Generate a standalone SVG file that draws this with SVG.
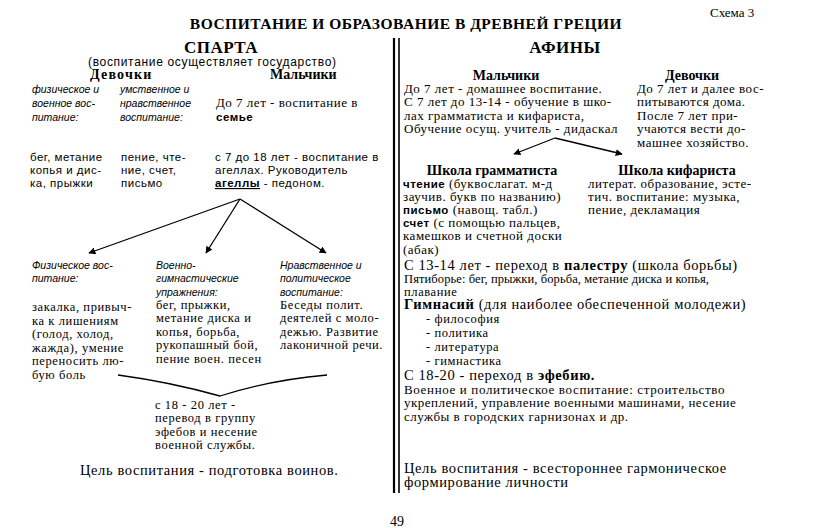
<svg xmlns="http://www.w3.org/2000/svg" width="813" height="528" viewBox="0 0 813 528">
<defs>
<marker id="ah" viewBox="0 0 10 10" refX="9" refY="5" markerWidth="7" markerHeight="7" orient="auto" markerUnits="userSpaceOnUse">
<path d="M0,0 L10,5 L0,10 z" fill="#000"/>
</marker>
<style>
text{fill:#000}
.ser{font-family:"Liberation Serif","Times New Roman",serif}
.san{font-family:"Liberation Sans",Arial,sans-serif}
.h1{font-family:"Liberation Serif",serif;font-weight:bold;font-size:15.5px;letter-spacing:0.5px}
.h2{font-family:"Liberation Serif",serif;font-weight:bold;font-size:17px;letter-spacing:0.5px}
.h3{font-family:"Liberation Serif",serif;font-weight:bold;font-size:14px}
.it{font-family:"Liberation Sans",Arial,sans-serif;font-style:italic;font-size:10.5px}
.sm{font-family:"Liberation Sans",Arial,sans-serif;font-size:11.5px;letter-spacing:0.5px}
.bd{font-family:"Liberation Serif",serif;font-size:12.5px;letter-spacing:0.6px}
.md{font-family:"Liberation Serif",serif;font-size:13px;letter-spacing:0.5px}
.lg{font-family:"Liberation Serif",serif;font-size:14.5px;letter-spacing:0.6px}
.b{font-weight:bold}
.ln{stroke:#000;fill:none;stroke-width:1.3}
</style>
</defs>
<rect width="813" height="528" fill="#fff"/>

<g id="header">
<text class="ser" x="710" y="17" font-size="13">Схема 3</text>
<text class="h1" x="406" y="29" text-anchor="middle">ВОСПИТАНИЕ И ОБРАЗОВАНИЕ В ДРЕВНЕЙ ГРЕЦИИ</text>
</g>

<g id="divider">
<line x1="394" y1="38" x2="394" y2="493" stroke="#000" stroke-width="2.2"/>
<line x1="399" y1="38" x2="399" y2="493" stroke="#000" stroke-width="1.6"/>
</g>

<g id="sparta-title">
<text class="h2" x="221" y="53" text-anchor="middle">СПАРТА</text>
<text class="san" x="88" y="65.5" font-size="12" textLength="248">(воспитание осуществляет государство)</text>
<text class="h3" x="90" y="79" style="letter-spacing:1.2px" font-size="14.5">Девочки</text>
<text class="h3" x="270" y="79">Мальчики</text>
</g>

<g id="sparta-girls-phys">
<text class="it" x="32" y="93">физическое и</text>
<text class="it" x="32" y="107">военное вос-</text>
<text class="it" x="32" y="121">питание:</text>
<text class="sm" x="30" y="161">бег, метание</text>
<text class="sm" x="30" y="174">копья и дис-</text>
<text class="sm" x="30" y="187">ка, прыжки</text>
</g>

<g id="sparta-girls-mental">
<text class="it" x="120" y="93">умственное и</text>
<text class="it" x="120" y="107">нравственное</text>
<text class="it" x="120" y="121">воспитание:</text>
<text class="sm" x="121" y="161">пение, чте-</text>
<text class="sm" x="121" y="174">ние, счет,</text>
<text class="sm" x="121" y="187">письмо</text>
</g>

<g id="sparta-boys">
<text class="md" x="216" y="107">До 7 лет - воспитание в</text>
<text class="sm b" x="216" y="121">семье</text>
<text class="sm" x="215" y="161">с 7 до 18 лет - воспитание в</text>
<text class="sm" x="215" y="174">агеллах. Руководитель</text>
<text class="sm" x="215" y="187"><tspan font-weight="bold" text-decoration="underline">агеллы</tspan> - педоном.</text>
</g>

<g id="sparta-physical">
<text class="it" x="32" y="269" font-size="11">Физическое вос-</text>
<text class="it" x="32" y="282" font-size="11">питание:</text>
<text class="bd" x="32" y="311">закалка, привыч-</text>
<text class="bd" x="32" y="325">ка к лишениям</text>
<text class="bd" x="32" y="338">(голод, холод,</text>
<text class="bd" x="32" y="352">жажда), умение</text>
<text class="bd" x="32" y="365">переносить лю-</text>
<text class="bd" x="32" y="379">бую боль</text>
</g>

<g id="sparta-military">
<text class="it" x="156" y="269" font-size="11">Военно-</text>
<text class="it" x="156" y="282" font-size="11">гимнастические</text>
<text class="it" x="156" y="296" font-size="11">упражнения:</text>
<text class="bd" x="156" y="309">бег, прыжки,</text>
<text class="bd" x="156" y="322">метание диска и</text>
<text class="bd" x="156" y="336">копья, борьба,</text>
<text class="bd" x="156" y="349">рукопашный бой,</text>
<text class="bd" x="156" y="363">пение воен. песен</text>
</g>

<g id="sparta-moral">
<text class="it" x="280" y="269" font-size="11">Нравственное и</text>
<text class="it" x="280" y="282" font-size="11">политическое</text>
<text class="it" x="280" y="296" font-size="11">воспитание:</text>
<text class="bd" x="280" y="309">Беседы полит.</text>
<text class="bd" x="280" y="322">деятелей с моло-</text>
<text class="bd" x="280" y="336">дежью. Развитие</text>
<text class="bd" x="280" y="349">лаконичной речи.</text>
</g>

<g id="sparta-ephebes">
<text class="bd" x="155" y="409">с 18 - 20 лет -</text>
<text class="bd" x="155" y="422">перевод в группу</text>
<text class="bd" x="155" y="436">эфебов и несение</text>
<text class="bd" x="155" y="449">военной службы.</text>
</g>

<g id="sparta-goal">
<text class="lg" x="80" y="475">Цель воспитания - подготовка воинов.</text>
</g>

<g id="athens-title">
<text class="h2" x="565" y="53" text-anchor="middle">АФИНЫ</text>
<text class="h3" x="506" y="80" text-anchor="middle">Мальчики</text>
<text class="h3" x="692" y="80" text-anchor="middle">Девочки</text>
</g>

<g id="athens-boys">
<text class="md" x="404" y="93">До 7 лет - домашнее воспитание.</text>
<text class="md" x="404" y="106">С 7 лет до 13-14 - обучение в шко-</text>
<text class="md" x="404" y="120">лах грамматиста и кифариста,</text>
<text class="md" x="404" y="133">Обучение осущ. учитель - дидаскал</text>
</g>

<g id="athens-girls">
<text class="md" x="637" y="93">До 7 лет и далее вос-</text>
<text class="md" x="637" y="106">питываются дома.</text>
<text class="md" x="637" y="120">После 7 лет при-</text>
<text class="md" x="637" y="133">учаются вести до-</text>
<text class="md" x="637" y="147">машнее хозяйство.</text>
</g>

<g id="school-grammatist">
<text class="h3" x="492" y="175" font-size="13" text-anchor="middle">Школа грамматиста</text>
<text class="md" x="403" y="188"><tspan class="san b" font-size="11.5">чтение</tspan> (буквослагат. м-д</text>
<text class="md" x="403" y="201">заучив. букв по названию)</text>
<text class="md" x="403" y="214"><tspan class="san b" font-size="11.5">письмо</tspan> (навощ. табл.)</text>
<text class="md" x="403" y="227"><tspan class="san b" font-size="11.5">счет</tspan> (с помощью пальцев,</text>
<text class="md" x="403" y="240">камешков и счетной доски</text>
<text class="md" x="403" y="253.5">(абак)</text>
</g>

<g id="school-kifarist">
<text class="h3" x="677" y="175" font-size="13" text-anchor="middle">Школа кифариста</text>
<text class="md" x="588" y="188">литерат. образование, эсте-</text>
<text class="md" x="588" y="201">тич. воспитание: музыка,</text>
<text class="md" x="588" y="214">пение, декламация</text>
</g>

<g id="athens-palestra">
<text class="lg" x="404" y="270">С 13-14 лет - переход в <tspan font-weight="bold">палестру</tspan> (школа борьбы)</text>
<text class="bd" x="404" y="283" style="letter-spacing:0.1px">Пятиборье: бег, прыжки, борьба, метание диска и копья,</text>
<text class="bd" x="404" y="295.5">плавание</text>
</g>

<g id="athens-gymnasium">
<text class="lg" x="404" y="309"><tspan font-weight="bold">Гимнасий</tspan> (для наиболее обеспеченной молодежи)</text>
<text class="bd" x="426" y="323">- философия</text>
<text class="bd" x="426" y="337">- политика</text>
<text class="bd" x="426" y="351">- литература</text>
<text class="bd" x="426" y="364.5">- гимнастика</text>
</g>

<g id="athens-ephebia">
<text class="lg" x="404" y="380">С 18-20 - переход в <tspan font-weight="bold">эфебию.</tspan></text>
<text class="md" x="404" y="394" textLength="321">Военное и политическое воспитание: строительство</text>
<text class="md" x="404" y="407">укреплений, управление военными машинами, несение</text>
<text class="md" x="404" y="421">службы в городских гарнизонах и др.</text>
</g>

<g id="athens-goal">
<text class="lg" x="404" y="473">Цель воспитания - всестороннее гармоническое</text>
<text class="lg" x="404" y="487">формирование личности</text>
</g>

<g id="page">
<text class="ser" x="397" y="526" font-size="14" text-anchor="middle">49</text>
</g>

<g id="connectors">
<line class="ln" x1="240" y1="199" x2="89" y2="253" marker-end="url(#ah)"/>
<line class="ln" x1="240" y1="199" x2="206" y2="253" marker-end="url(#ah)"/>
<line class="ln" x1="240" y1="199" x2="326" y2="253" marker-end="url(#ah)"/>
<path class="ln" d="M118,375 Q170,382 220,396 Q270,380 327,375"/>
<line class="ln" x1="555" y1="138" x2="514" y2="154" marker-end="url(#ah)"/>
<line class="ln" x1="555" y1="138" x2="622" y2="154" marker-end="url(#ah)"/>
</g>
</svg>
